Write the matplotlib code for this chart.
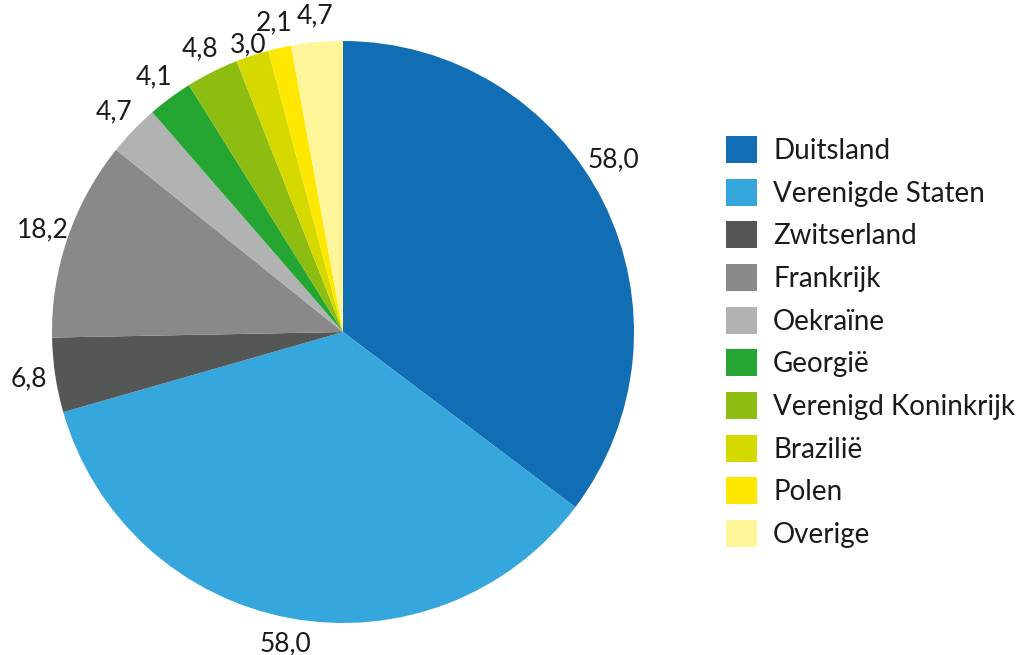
import matplotlib
matplotlib.use("Agg")
import matplotlib.pyplot as plt
import numpy as np

plt.rcParams['font.family'] = ['Lato', 'DejaVu Sans']

landen = ["Duitsland", "Verenigde Staten", "Zwitserland", "Frankrijk", "Oekraïne",
          "Georgië", "Verenigd Koninkrijk", "Brazilië", "Polen", "Overige"]
waarden = [58.0, 58.0, 6.8, 18.2, 4.7, 4.1, 4.8, 3.0, 2.1, 4.7]
kleuren = ["#116eb4", "#35a7dd", "#555756", "#888988", "#b1b3b3",
           "#25a632", "#8cbd10", "#d5d900", "#ffe800", "#fff599"]

fig = plt.figure(figsize=(10.25, 6.55), dpi=100)
ax = fig.add_axes([52/1025, 32/655, 582/1025, 582/655])

wedges, teksten = ax.pie(waarden, colors=kleuren, startangle=90, counterclock=False,
                         radius=1, labels=[f"{v:.1f}".replace(".", ",") for v in waarden],
                         labeldistance=1.09,
                         wedgeprops=dict(linewidth=0),
                         textprops=dict(fontsize=19, color="#1a1a1a"))
for t in teksten:
    t.set_horizontalalignment("center")
    t.set_verticalalignment("center")
# het label van Duitsland staat in het origineel iets hoger
x0, y0 = teksten[0].get_position()
hoek = np.arctan2(y0, x0) + np.radians(6)
teksten[0].set_position((1.1 * np.cos(hoek), 1.1 * np.sin(hoek)))
# Brazilië staat dichter bij de taart, zodat het niet op Polen valt
x7, y7 = teksten[7].get_position()
teksten[7].set_position((x7 * 1.04 / 1.09, y7 * 1.04 / 1.09))

ax.set_xlim(-1, 1)
ax.set_ylim(-1, 1)
ax.set_aspect("equal")
ax.axis("off")

fig.legend(wedges, landen, loc="upper left", bbox_to_anchor=(726/1025, 1 - 136/655),
           frameon=False, fontsize=20, handlelength=1.12, handleheight=1.12,
           handletextpad=0.58, labelspacing=0.53, borderpad=0, borderaxespad=0,
           labelcolor="#1a1a1a")

fig.savefig("out.png", dpi=100)
